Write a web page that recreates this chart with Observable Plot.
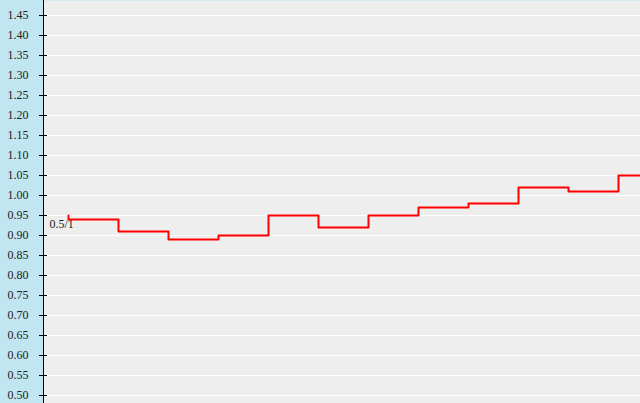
<!DOCTYPE html>
<html><head><meta charset="utf-8">
<script src="https://cdn.jsdelivr.net/npm/d3@7"></script>
<script src="https://cdn.jsdelivr.net/npm/@observablehq/plot@0.6"></script>
<style>
html,body{margin:0;padding:0;overflow:hidden;background:#c1e5f1}
svg text{font-family:'Liberation Serif','Times New Roman',serif !important;font-size:12px !important;}
</style>
</head><body><div id="chart"></div>
<script>
const periods = [0,1,2,3,4,5,6,7,8,9,10,11,12];
const ratios = [0.95,0.94,0.91,0.89,0.90,0.95,0.92,0.95,0.97,0.98,1.02,1.01,1.05];
const yTicks = [0.50,0.55,0.60,0.65,0.70,0.75,0.80,0.85,0.90,0.95,1.00,1.05,1.10,1.15,1.20,1.25,1.30,1.35,1.40,1.45];
const startLabel = "0.5/1";
const xDomain = [-0.5, 11.44];
const yDomain = [0.48, 1.4875];

const data = periods.map((p, i) => ({p, r: ratios[i]}));
const font = "'Liberation Serif','Times New Roman',serif";

const chart = Plot.plot({
  width: 640, height: 403,
  marginLeft: 43, marginRight: 0, marginTop: 0, marginBottom: 0,
  style: {background: "#c1e5f1", fontFamily: font, fontSize: "12px", overflow: "hidden"},
  x: {domain: xDomain, axis: null},
  y: {domain: yDomain, axis: null},
  marks: [
    Plot.frame({fill: "#eeeeee", stroke: null}),
    Plot.gridY(yTicks, {stroke: "white", strokeOpacity: 1, strokeWidth: 1}),
    Plot.ruleX([xDomain[0]], {stroke: "black", strokeWidth: 1}),
    Plot.axisY(yTicks, {anchor: "left", tickSize: 8, dx: 4, tickPadding: 11, tickFormat: d3.format(".2f"), fontSize: 12, fontFamily: font, fill: "#222", stroke: "black", label: null}),
    Plot.line(data, {x: "p", y: "r", curve: "step-before", stroke: "#ff0000", strokeWidth: 2}),
    Plot.text([data[1]], {x: () => periods[0], y: "r", text: () => startLabel, textAnchor: "start", dx: -19, dy: 5, fontSize: 12, fontFamily: font, fill: "#222"})
  ]
});
document.getElementById("chart").appendChild(chart);
</script></body></html>
